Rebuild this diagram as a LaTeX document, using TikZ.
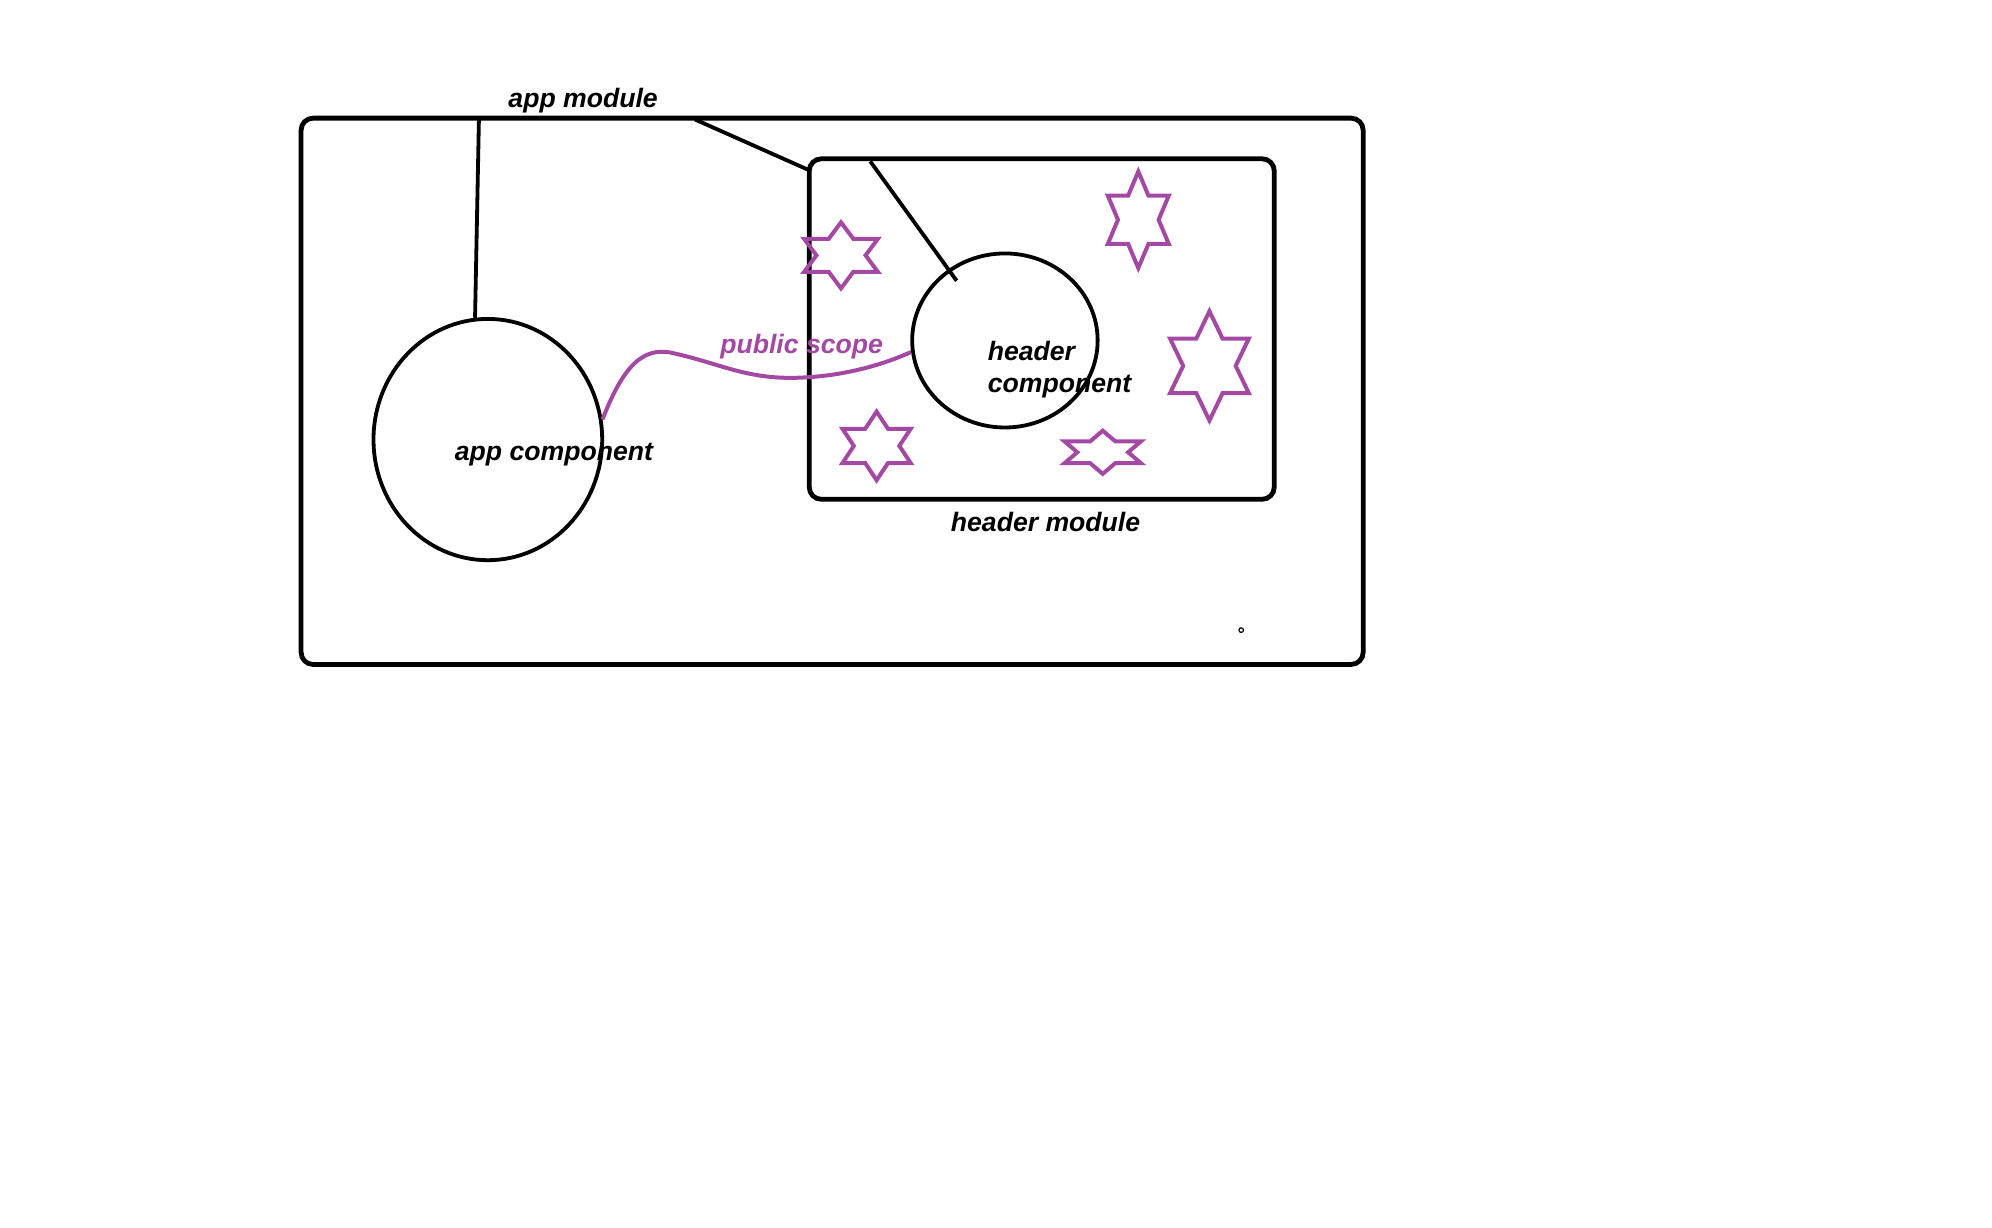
\documentclass[tikz,border=0pt]{standalone}
\usepackage{fontspec}
\setmainfont{Liberation Sans}
\usetikzlibrary{shapes.geometric}
\definecolor{paintpurple}{RGB}{163,73,164}

\begin{document}
\begin{tikzpicture}[x=0.635pt, y=-0.635pt,
    modline/.style={line width=2.4pt, rounded corners=6pt},
    linkline/.style={line width=1.9pt},
    comp/.style={draw, ellipse, line width=1.9pt, inner sep=0pt},
    lbl/.style={font=\fontsize{13.3}{16}\selectfont\bfseries\itshape},
    starline/.style={draw=paintpurple, line width=2pt}]
    \useasboundingbox (0,0) rectangle (1568,966);

    % the two modules
    \coordinate (appnw) at (237,93);
    \coordinate (appse) at (1073,523);
    \draw[modline] (appnw) rectangle (appse);
    \coordinate (headnw) at (637,125);
    \coordinate (headse) at (1003,393);
    \draw[modline] (headnw) rectangle (headse);
    \node[lbl] (appmod) at (459,79) {app module};
    \node[lbl] (headmod) at (823,411) {header module};

    % the two components
    \node[comp, minimum width=114.3pt, minimum height=120.6pt] (appcomp) at (384,346) {};
    \node[comp, minimum width=92.7pt, minimum height=87pt] (headcomp) at (791,268) {};
    \node[lbl] (apptext) at (436,358) {app component};
    \node[lbl, align=left, anchor=west] (headtext) at (772,291) {header\\component};

    % pointers from the module labels
    \coordinate (apptop) at (377,93);
    \coordinate (appedge) at (547,94);
    \coordinate (headcorner) at (637,134);
    \coordinate (headtop) at (685,127);
    \coordinate (headin) at (753,221);
    \draw[linkline] (apptop) -- (appcomp.96);
    \draw[linkline] (appedge) -- (headcorner);
    \draw[linkline] (headtop) -- (headin);

    % public scope
    \draw[paintpurple, line width=2pt] (appcomp.10)
        .. controls (490,290) and (505,272) .. (530,278)
        .. controls (570,287) and (590,300) .. (635,297)
        .. controls (670,295) and (700,285) .. (headcomp.187);
    \node[lbl, text=paintpurple] (scope) at (631,273) {public scope};

    % stars in the header module
    \foreach \sx/\sy/\rx/\ry in {662/201/33.5/26, 896/173/27.7/38, 952/288/35.8/43,
                                  690/351/31/27, 868/356/34.6/17} {
        \draw[starline] plot[variable=\k, samples at={0,...,11}]
            ({\sx+\rx*(1-0.4226*mod(\k,2))*cos(90+30*\k)},
             {\sy-\ry*(1-0.4226*mod(\k,2))*sin(90+30*\k)}) -- cycle;
    }

    % stray dot
    \draw[line width=0.6pt] (977,496) circle (1.8);
\end{tikzpicture}
\end{document}
